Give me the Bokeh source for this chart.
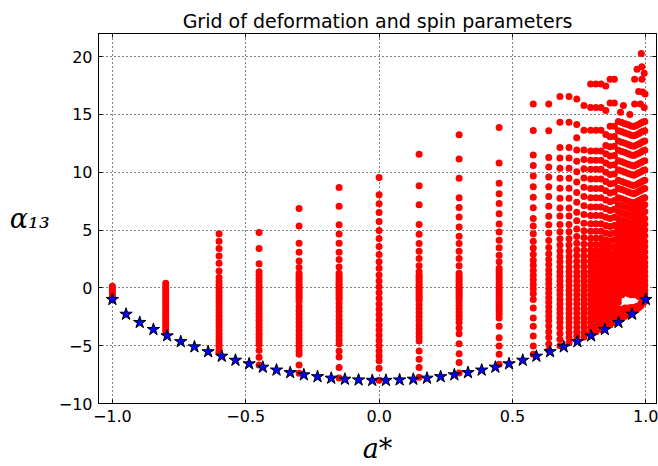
from bokeh.plotting import figure
from bokeh.models import FixedTicker, LinearAxis, Range1d, CustomJSTickFormatter, ColumnDataSource
from bokeh.embed import file_html
from bokeh.resources import INLINE

# ---------------- data ----------------
# boundary (blue stars)
star_a = [-1.0, -0.9487, -0.8974, -0.8462, -0.7949, -0.7436, -0.6923, -0.641, -0.5897, -0.5385,
          -0.4872, -0.4359, -0.3846, -0.3333, -0.2821, -0.2308, -0.1795, -0.1282, -0.0769, -0.0256,
          0.0256, 0.0769, 0.1282, 0.1795, 0.2308, 0.2821, 0.3333, 0.3846, 0.4359, 0.4872,
          0.5385, 0.5897, 0.641, 0.6923, 0.7436, 0.7949, 0.8462, 0.8974, 0.9487, 1.0]
star_y = [-1.0, -2.28, -2.99, -3.6, -4.15, -4.65, -5.1, -5.52, -5.91, -6.26,
          -6.57, -6.86, -7.11, -7.33, -7.52, -7.68, -7.81, -7.9, -7.96, -8.0,
          -8.0, -7.96, -7.9, -7.81, -7.68, -7.52, -7.33, -7.11, -6.86, -6.57,
          -6.26, -5.91, -5.52, -5.1, -4.65, -4.15, -3.6, -2.99, -2.28, -1.0]

# grid points (red dots): one column of alpha13 values per a* value
col_a = [-1.0, -0.8, -0.6, -0.45, -0.3, -0.15, 0.0, 0.15, 0.3, 0.45,
         0.578, 0.636, 0.678, 0.712, 0.741, 0.768, 0.793, 0.813, 0.832, 0.85, 0.866, 0.882,
         0.897, 0.91, 0.922, 0.934, 0.945, 0.955, 0.965, 0.974, 0.982, 0.99, 0.996]
col_y = [
    [0.15, -0.05, -0.25, -0.45, -0.65, -0.85, -1.0],
    [0.4, 0.15, -0.1, -0.35, -0.6, -0.85, -1.1, -1.35, -1.6, -1.85, -2.1, -2.35, -2.6, -2.85, -3.1, -3.35, -3.6, -3.8],
    [4.69, 4.03, 3.4, 2.75, 2.12, 1.46, 0.89, 0.55, 0.25, -0.05, -0.35, -0.65, -0.95, -1.25, -1.55, -1.85, -2.15,
     -2.45, -2.75, -3.05, -3.35, -3.65, -3.95, -4.25, -4.55, -4.85, -5.15, -5.45, -5.6],
    [4.78, 3.4, 2.09, 1.4, 1.1, 0.8, 0.5, 0.2, -0.1, -0.4, -0.7, -1.0, -1.3, -1.6, -1.9, -2.2, -2.5, -2.8, -3.1,
     -3.4, -3.7, -4.0, -4.3, -4.6, -4.9, -5.4, -6.0, -6.66],
    [6.87, 5.35, 3.85, 3.08, 2.33, 1.76, 1.26, 1.05, 0.85, 0.65, 0.45, 0.25, 0.05, -0.15, -0.35, -0.55, -0.75, -0.95,
     -1.17, -1.6, -1.95, -2.3, -2.65, -3.0, -3.35, -3.7, -4.05, -4.4, -4.75, -5.1, -5.45, -5.75, -6.66, -7.38],
    [8.68, 7.07, 5.47, 4.66, 3.85, 3.08, 2.45, 1.81, 1.27, 1.0, 0.8, 0.6, 0.4, 0.2, 0.0, -0.2, -0.4, -0.6, -0.8, -1.0,
     -1.35, -1.7, -2.05, -2.4, -2.75, -3.1, -3.45, -3.8, -4.15, -4.5, -4.83, -5.46, -5.97, -6.89, -7.8],
    [9.54, 8.05, 7.27, 6.52, 5.75, 4.97, 4.28, 3.57, 2.88, 2.27, 1.7, 1.12, 0.6, 0.1, -0.4, -0.9, -1.4, -1.85, -2.3,
     -2.75, -3.2, -3.65, -4.1, -4.55, -5.0, -5.45, -5.9, -6.31, -6.95, -7.98],
    [11.55, 8.84, 7.18, 5.49, 4.63, 3.83, 3.17, 2.55, 1.92, 1.4, 1.1, 0.9, 0.7, 0.5, 0.3, 0.1, -0.1, -0.3, -0.5, -0.7,
     -0.9, -1.1, -1.45, -1.8, -2.15, -2.5, -2.85, -3.2, -3.55, -3.9, -4.25, -4.6, -5.45, -6.17, -6.89, -7.74],
    [13.24, 11.15, 9.49, 7.8, 6.95, 6.12, 5.27, 4.46, 3.83, 3.17, 2.55, 1.92, 1.26, 1.05, 0.85, 0.65, 0.45, 0.25, 0.05,
     -0.15, -0.35, -0.55, -0.75, -0.95, -1.2, -1.5, -1.8, -2.1, -2.4, -2.7, -3.0, -3.46, -3.97, -4.83, -5.69, -6.46, -7.37],
    [13.87, 10.81, 9.04, 8.15, 7.29, 6.41, 5.52, 4.84, 4.12, 3.46, 2.83, 2.26, 1.69, 1.45, 1.2, 0.95, 0.7, 0.45, 0.2,
     -0.05, -0.3, -0.55, -0.8, -1.05, -1.3, -1.55, -1.8, -2.05, -2.3, -2.6, -3.31, -4.31, -5.03, -5.75, -6.6],
    [15.9, 13.61, 11.49, 10.58, 9.67, 8.75, 7.84, 6.92, 6.0, 5.35, 4.69, 4.03, 3.45, 2.9, 2.4, 1.95, 1.5, 1.1, 0.7,
     0.3, -0.1, -0.5, -1.0, -1.74, -2.6, -3.31, -4.17, -5.03, -5.75],
    [15.9, 13.6, 11.27, 10.45, 9.6, 8.75, 7.9, 7.05, 6.2, 5.45, 4.75, 4.1, 3.5, 2.95, 2.45, 2.0, 1.55, 1.15, 0.75,
     0.35, -0.05, -0.45, -0.85, -1.25, -1.65, -2.05, -2.45, -2.85, -3.3, -3.8, -4.3, -4.85, -5.4],
    [16.55, 14.32, 12.13, 11.24, 10.35, 9.49, 8.61, 7.75, 6.9, 6.21, 5.49, 4.85, 4.25, 3.7, 3.2, 2.7, 2.25, 1.8, 1.4,
     1.0, 0.6, 0.2, -0.2, -0.6, -1.0, -1.4, -1.8, -2.2, -2.6, -3.0, -3.45, -3.95, -4.45, -5.0],
    [16.55, 14.32, 12.13, 11.24, 10.35, 9.49, 8.61, 7.75, 6.9, 6.21, 5.49, 4.85, 4.25, 3.7, 3.2, 2.7, 2.25, 1.8, 1.4,
     1.0, 0.6, 0.2, -0.2, -0.6, -1.0, -1.4, -1.8, -2.2, -2.6, -3.0, -3.4, -3.85, -4.3, -4.75],
    [16.33, 14.12, 12.98, 11.92, 10.95, 10.05, 9.15, 8.25, 7.4, 6.55, 5.8, 5.1, 4.45, 3.85, 3.3, 2.8, 2.3, 1.85, 1.4,
     1.0, 0.6, 0.2, -0.2, -0.6, -1.0, -1.4, -1.8, -2.2, -2.6, -3.0, -3.4, -3.8, -4.15, -4.5],
    [15.78, 13.64, 11.92, 11.1, 10.3, 9.5, 8.7, 7.9, 7.1, 6.35, 5.6, 4.95, 4.35, 3.8, 3.25, 2.75, 2.3, 1.85, 1.4,
     1.0, 0.6, 0.2, -0.2, -0.6, -1.0, -1.4, -1.8, -2.2, -2.6, -3.0, -3.4, -3.85, -4.25],
    [17.64, 15.61, 13.64, 11.84, 11.04, 10.27, 9.41, 8.6, 7.8, 7.0, 6.25, 5.55, 4.9, 4.3, 3.75, 3.25, 2.75, 2.3, 1.85,
     1.4, 1.0, 0.6, 0.2, -0.2, -0.6, -1.0, -1.4, -1.8, -2.2, -2.6, -3.0, -3.4, -3.75, -4.0],
    [17.64, 15.61, 13.64, 11.84, 11.04, 10.27, 9.41, 8.6, 7.8, 7.0, 6.25, 5.55, 4.9, 4.3, 3.75, 3.25, 2.75, 2.3, 1.85,
     1.4, 1.0, 0.6, 0.2, -0.2, -0.6, -1.0, -1.4, -1.8, -2.2, -2.6, -3.0, -3.4, -3.8],
    [17.64, 15.61, 13.64, 11.84, 11.04, 10.27, 9.41, 8.6, 7.8, 7.0, 6.25, 5.55, 4.9, 4.3, 3.75, 3.25, 2.75, 2.3, 1.85,
     1.4, 1.0, 0.6, 0.2, -0.2, -0.6, -1.0, -1.4, -1.8, -2.2, -2.6, -3.0, -3.35, -3.6],
    [17.47, 15.35, 13.27, 12.32, 11.61, 10.8, 10.0, 9.2, 8.4, 7.6, 6.85, 6.1, 5.4, 4.75, 4.15, 3.6, 3.1, 2.6, 2.15,
     1.7, 1.25, 0.85, 0.45, 0.05, -0.35, -0.75, -1.15, -1.55, -1.95, -2.35, -2.75, -3.1, -3.4],
    [18.04, 15.98, 13.98, 13.07, 12.21, 11.4, 10.6, 9.8, 9.0, 8.2, 7.45, 6.7, 6.0, 5.3, 4.65, 4.05, 3.5, 2.95, 2.45,
     1.95, 1.5, 1.05, 0.6, 0.2, -0.2, -0.6, -1.0, -1.4, -1.7, -2.1, -2.5, -2.85, -3.2],
    [18.04, 15.98, 13.98, 13.1, 12.25, 11.45, 10.65, 9.85, 9.05, 8.3, 7.55, 6.8, 6.1, 5.4, 4.75, 4.15, 3.55, 3.0,
     2.5, 2.0, 1.5, 1.05, 0.6, 0.2, -0.2, -0.55, -0.9, -1.25, -1.6, -2.0, -2.4, -2.75, -3.0],
    [14.4, 13.6, 12.7, 11.9, 11.0, 10.2, 9.3, 8.6, 7.8, 7.2, 6.6, 6.0, 5.5, 5.0, 4.5, 4.0, 3.55, 3.1, 2.65, 2.2,
     1.8, 1.4, 1.0, 0.6, 0.2, -0.2, -0.55, -0.9, -1.25, -1.8, -2.2, -2.6, -2.85],
    [14.3, 13.5, 12.6, 11.8, 10.9, 10.1, 9.2, 8.5, 7.7, 7.1, 6.5, 5.9, 5.4, 4.9, 4.4, 3.9, 3.45, 3.0, 2.55, 2.1,
     1.7, 1.3, 0.9, 0.5, 0.1, -0.3, -0.6, -1.85, -2.2, -2.6],
    [14.2, 13.4, 12.5, 11.7, 10.8, 10.0, 9.1, 8.4, 7.6, 7.0, 6.4, 5.8, 5.3, 4.8, 4.3, 3.8, 3.35, 2.9, 2.45, 2.0,
     1.6, 1.2, 0.8, 0.4, 0.0, -0.4, -1.75, -2.1, -2.45],
    [14.1, 13.3, 12.4, 11.6, 10.7, 9.9, 9.0, 8.3, 7.5, 6.9, 6.3, 5.7, 5.2, 4.7, 4.2, 3.7, 3.25, 2.8, 2.35, 1.9,
     1.5, 1.1, 0.7, 0.3, -0.1, -0.5, -1.75, -2.05, -2.3],
    [14.0, 13.2, 12.3, 11.5, 10.6, 9.8, 8.9, 8.2, 7.4, 6.8, 6.2, 5.6, 5.1, 4.6, 4.1, 3.6, 3.15, 2.7, 2.25, 1.8,
     1.4, 1.0, 0.6, 0.2, -0.2, -0.6, -1.7, -2.0, -2.2],
    [13.95, 13.15, 12.25, 11.45, 10.55, 9.75, 8.85, 8.15, 7.35, 6.75, 6.15, 5.55, 5.05, 4.55, 4.05, 3.55, 3.1, 2.65,
     2.2, 1.75, 1.35, 0.95, 0.55, 0.15, -0.25, -0.6, -1.7, -2.05],
    [14.05, 13.25, 12.35, 11.55, 10.65, 9.85, 8.95, 8.25, 7.45, 6.85, 6.25, 5.65, 5.15, 4.65, 4.15, 3.65, 3.2, 2.75,
     2.3, 1.85, 1.45, 1.05, 0.65, 0.25, -0.15, -0.55, -1.6, -1.9],
    [14.15, 13.35, 12.45, 11.65, 10.75, 9.95, 9.05, 8.35, 7.55, 6.95, 6.35, 5.75, 5.25, 4.75, 4.25, 3.75, 3.3, 2.85,
     2.4, 1.95, 1.55, 1.15, 0.75, 0.35, -0.05, -0.45, -0.75, -1.55, -1.7],
    [14.25, 13.45, 12.55, 11.75, 10.85, 10.05, 9.15, 8.45, 7.65, 7.05, 6.45, 5.85, 5.35, 4.85, 4.35, 3.85, 3.4, 2.95,
     2.5, 2.05, 1.65, 1.25, 0.85, 0.45, 0.05, -0.35, -0.7, -1.3, -1.55],
    [14.35, 13.55, 12.65, 11.85, 10.95, 10.15, 9.25, 8.55, 7.75, 7.15, 6.55, 5.95, 5.45, 4.95, 4.45, 3.95, 3.5, 3.05,
     2.6, 2.15, 1.75, 1.35, 0.95, 0.55, 0.15, -0.25, -0.6, -0.95, -1.3],
    [14.4, 13.6, 12.7, 11.9, 11.0, 10.2, 9.3, 8.6, 7.8, 7.2, 6.6, 6.0, 5.5, 5.0, 4.5, 4.0, 3.55, 3.1, 2.65, 2.2,
     1.8, 1.4, 1.0, 0.6, 0.2, -0.2, -0.55, -0.85, -1.15],
]
# isolated high points near a* = 1
extra_a = [0.916, 0.958, 0.967, 0.983, 0.985, 0.994, 0.985, 0.988, 0.997, 0.958, 0.973, 0.98, 0.994, 0.905, 0.94]
extra_y = [15.78, 18.05, 18.9, 20.27, 19.13, 18.56, 18.05, 16.93, 16.76, 15.9, 16.99, 15.9, 15.6, 15.2, 15.0]

x_ticks = [-1.0, -0.5, 0.0, 0.5, 1.0]
x_tick_labels = ["\u22121.0", "\u22120.5", "0.0", "0.5", "1.0"]
y_ticks = [-10, -5, 0, 5, 10, 15, 20]
y_tick_labels = ["\u221210", "\u22125", "0", "5", "10", "15", "20"]

# ---------------- build table ----------------
dot_x, dot_y = [], []
for a, ys in zip(col_a, col_y):
    for v in ys:
        dot_x.append(a)
        dot_y.append(v)
dot_x += extra_a
dot_y += extra_y
dots = ColumnDataSource(dict(x=dot_x, y=dot_y))
stars = ColumnDataSource(dict(x=star_a, y=star_y))

p = figure(width=658, height=466, x_range=Range1d(-1.052, 1.04), y_range=Range1d(-10, 22),
           output_backend="svg", toolbar_location=None,
           title="Grid of deformation and spin parameters",
           min_border_left=98, min_border_right=2, min_border_top=33, min_border_bottom=60)
p.background_fill_color = "white"
p.border_fill_color = "white"
p.outline_line_color = "black"
p.outline_line_width = 1

p.title.text_font = "DejaVu Sans"
p.title.text_font_size = "19px"
p.title.text_font_style = "normal"
p.title.align = "center"
p.title.text_color = "black"
p.title.standoff = 4

for ax, ticks, labels in ((p.xaxis[0], x_ticks, x_tick_labels), (p.yaxis[0], y_ticks, y_tick_labels)):
    ax.ticker = FixedTicker(ticks=ticks)
    ax.major_label_overrides = {t: l for t, l in zip(ticks, labels)}
    ax.major_tick_in = 4
    ax.major_tick_out = 0
    ax.minor_tick_line_color = None
    ax.axis_line_color = "black"
    ax.major_tick_line_color = "black"
    ax.major_label_text_font = "DejaVu Sans"
    ax.major_label_text_font_size = "16px"
    ax.major_label_text_color = "black"
    ax.major_label_standoff = 6
    ax.axis_label_text_font = "DejaVu Serif"
    ax.axis_label_text_font_style = "italic"
    ax.axis_label_text_font_size = "27px"
    ax.axis_label_text_color = "black"

p.xaxis.axis_label = "a*"
p.xaxis.axis_label_standoff = 8
p.yaxis.axis_label = "\u03b1\u2081\u2083"
p.yaxis.axis_label_orientation = "horizontal"
p.yaxis.axis_label_standoff = 6

for ticks, loc in ((y_ticks, "right"), (x_ticks, "above")):
    ax = LinearAxis(ticker=FixedTicker(ticks=ticks), formatter=CustomJSTickFormatter(code="return ''"),
                    major_tick_in=4, major_tick_out=0, minor_tick_line_color=None,
                    major_label_standoff=0, major_label_text_font_size="1px",
                    axis_line_color="black", major_tick_line_color="black")
    p.add_layout(ax, loc)

p.xgrid.ticker = FixedTicker(ticks=x_ticks)
p.ygrid.ticker = FixedTicker(ticks=y_ticks)
for g in (p.xgrid[0], p.ygrid[0]):
    g.grid_line_color = "black"
    g.grid_line_dash = "1 3"
    g.grid_line_width = 1

p.scatter("x", "y", source=dots, marker="circle", size=7, fill_color="#ff0000", line_color=None)
p.scatter("x", "y", source=stars, marker="star", size=13, fill_color="#0000ff", line_color="black",
          line_width=1)

open("out.html", "w").write(file_html(p, INLINE))
